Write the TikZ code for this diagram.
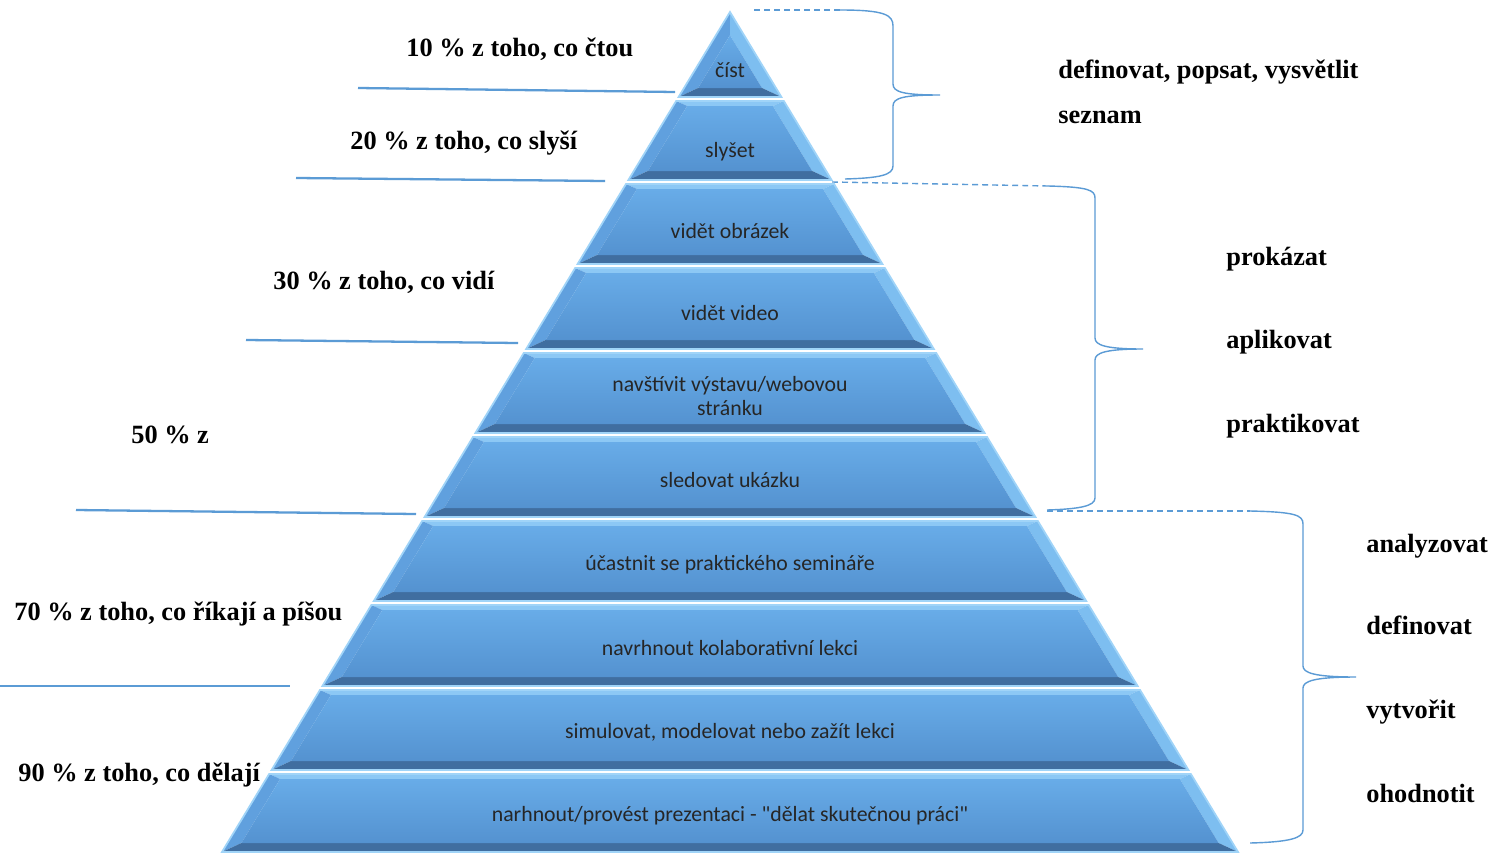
\documentclass[tikz,border=0pt]{standalone}
\usepackage{fontspec}
\setmainfont{Liberation Serif}
\newfontfamily\calibri{Carlito}
\usepackage{tikz}
\usetikzlibrary{positioning,calc}
\definecolor{pyrface1}{RGB}{104,172,232}
\definecolor{pyrface2}{RGB}{84,146,208}
\definecolor{pyrtop}{RGB}{140,200,245}
\definecolor{pyrleft}{RGB}{96,160,222}
\definecolor{pyrright}{RGB}{125,190,240}
\definecolor{pyrdark}{RGB}{64,110,160}
\definecolor{pyrrim}{RGB}{160,212,248}
\definecolor{bracecol}{RGB}{91,155,213}

\begin{document}
\begin{tikzpicture}[
    x=0.02cm, y=-0.02cm,
    lvltext/.style={font=\calibri\fontsize{12.4}{14}\selectfont, text=black!85, align=center},
    pct/.style={font=\bfseries\fontsize{15}{17}\selectfont, anchor=base west, inner sep=0pt},
    verb/.style={pct},
    guide/.style={draw=bracecol, line width=1.3pt},
    brc/.style={draw=bracecol, line width=0.8pt},
    dsh/.style={brc, dash pattern=on 3.4pt off 2.3pt}
]
    \useasboundingbox[fill=white] (0,0) rectangle (1493,852);

    % pyramid layers
    \foreach \t/\b/\ty/\txt [count=\i] in {
        12/97/70/{číst},
        101/180/152/{slyšet},
        184/264/231/{vidět obrázek},
        268/349/313/{vidět video},
        353/433/396/{navštívit výstavu/webovou\\stránku},
        437/517/480/{sledovat ukázku},
        521/601/565/{účastnit se praktického semináře},
        605/686/648/{navrhnout kolaborativní lekci},
        690/770/732/{simulovat, modelovat nebo zažít lekci},
        774/852/816/{narhnout/provést prezentaci - "dělat skutečnou práci"}} {
        \pgfmathsetmacro\xtl{730-0.6048*(\t-12)}
        \pgfmathsetmacro\xtr{1460-\xtl}
        \pgfmathsetmacro\xbl{730-0.6048*(\b-12)}
        \pgfmathsetmacro\xbr{1460-\xbl}
        \pgfmathsetmacro\yit{max(\t+5,12+14/0.6048)}
        \pgfmathsetmacro\yib{\b-9}
        \pgfmathsetmacro\itl{730-0.6048*(\yit-12)+14}
        \pgfmathsetmacro\itr{1460-\itl}
        \pgfmathsetmacro\ibl{730-0.6048*(\yib-12)+14}
        \pgfmathsetmacro\ibr{1460-\ibl}
        \fill[pyrtop] (\xtl,\t) -- (\xtr,\t) -- (\itr,\yit) -- (\itl,\yit) -- cycle;
        \fill[pyrleft] (\xtl,\t) -- (\itl,\yit) -- (\ibl,\yib) -- (\xbl,\b) -- cycle;
        \fill[pyrright] (\xtr,\t) -- (\xbr,\b) -- (\ibr,\yib) -- (\itr,\yit) -- cycle;
        \fill[pyrdark] (\xbl,\b) -- (\xbr,\b) -- (\ibr,\yib) -- (\ibl,\yib) -- cycle;
        \shade[top color=pyrface1, bottom color=pyrface2]
            (\itl,\yit) -- (\itr,\yit) -- (\ibr,\yib) -- (\ibl,\yib) -- cycle;
        \draw[pyrrim, line width=1pt] (\xtl,\t) -- (\xtr,\t) -- (\xbr,\b) -- (\xbl,\b) -- cycle;
        \node[lvltext] (lvl\i) at (730,\ty) {\txt};
    }

    % percentages on the left
    \node[pct] (p10) at (406,56) {10 \% z toho, co čtou};
    \node[pct] (p20) at (350,149) {20 \% z toho, co slyší};
    \node[pct] (p30) at (273,289) {30 \% z toho, co vidí};
    \node[pct] (p50) at (131,443) {50 \% z};
    \node[pct] (p70) at (14,620) {70 \% z toho, co říkají a píšou};
    \node[pct] (p90) at (18,781) {90 \% z toho, co dělají};

    \draw[guide] (358,88) -- (675,92);
    \draw[guide] (296,178) -- (605,181);
    \draw[guide] (246,340) -- (518,343);
    \draw[guide] (76,510) -- (416,514);
    \draw[guide] (0,686) -- (290,686);

    % braces on the right
    \draw[dsh] (754,10) -- (840,10);
    \draw[brc] (840,10) .. controls (885,10) and (893,15) .. (893,26) -- (893,84)
        .. controls (893,92) and (903,95) .. (940,95)
        .. controls (903,95) and (893,98) .. (893,106) -- (893,166)
        .. controls (893,175) and (880,178) .. (845,179);
    \draw[dsh] (832,182) -- (1048,186);
    \draw[brc] (1048,186) .. controls (1088,187) and (1095,190) .. (1095,198) -- (1095,338)
        .. controls (1095,345) and (1105,349) .. (1143,349)
        .. controls (1105,349) and (1095,353) .. (1095,360) -- (1095,498)
        .. controls (1095,506) and (1080,509) .. (1047,510);
    \draw[dsh] (1047,511) -- (1250,511);
    \draw[brc] (1250,511) .. controls (1295,512) and (1303,515) .. (1303,524) -- (1303,666)
        .. controls (1303,673) and (1315,677) .. (1356,677)
        .. controls (1315,677) and (1303,681) .. (1303,688) -- (1303,830)
        .. controls (1303,838) and (1290,842) .. (1250,843);

    % verbs on the right
    \node[verb] (v1) at (1058,78) {definovat, popsat, vysvětlit};
    \node[verb] (v2) at (1058,123) {seznam};
    \node[verb] (v3) at (1226,265) {prokázat};
    \node[verb] (v4) at (1226,348) {aplikovat};
    \node[verb] (v5) at (1226,432) {praktikovat};
    \node[verb] (v6) at (1366,552) {analyzovat};
    \node[verb] (v7) at (1366,634) {definovat};
    \node[verb] (v8) at (1366,718) {vytvořit};
    \node[verb] (v9) at (1366,802) {ohodnotit};
\end{tikzpicture}
\end{document}
